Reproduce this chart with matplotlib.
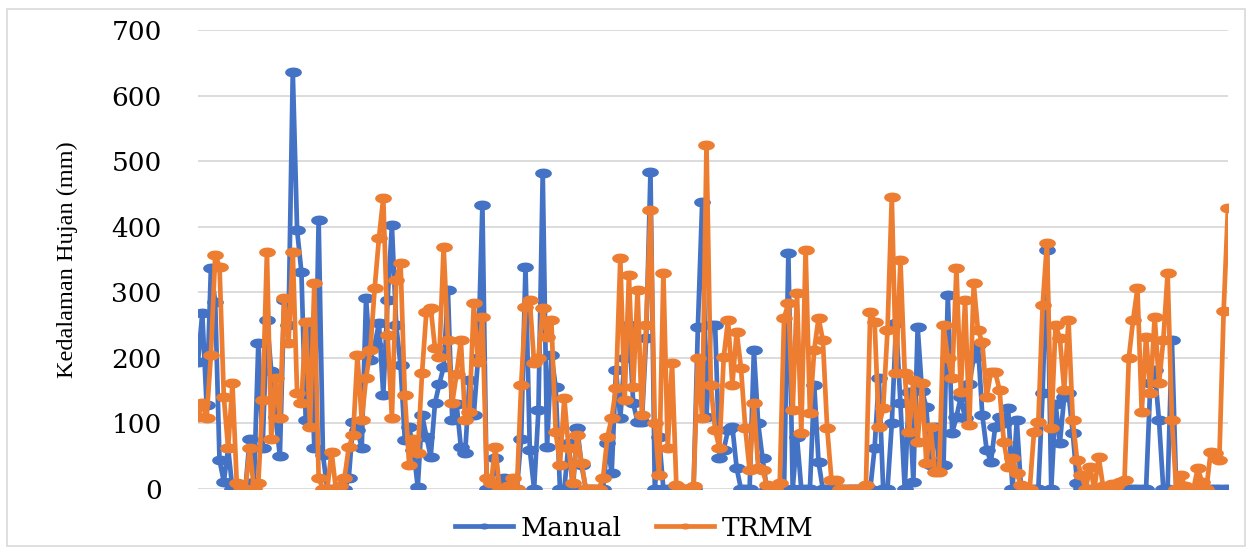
import numpy as np
import matplotlib
matplotlib.use("Agg")
import matplotlib.pyplot as plt
from matplotlib.path import Path
from matplotlib.patches import Rectangle

# values (mm), one per time step
manual = [194, 268, 128, 337, 285, 44, 11, 62, 0, 0,
          0, 0, 77, 10, 222, 62, 258, 180, 110, 50,
          288, 250, 636, 395, 331, 105, 255, 62, 410, 52,
          0, 0, 0, 0, 0, 17, 102, 90, 62, 291,
          197, 220, 253, 143, 288, 402, 250, 189, 75, 95,
          60, 3, 113, 80, 49, 131, 160, 186, 303, 105,
          130, 64, 55, 166, 113, 200, 433, 0, 0, 47,
          0, 17, 0, 0, 0, 77, 339, 60, 0, 120,
          482, 64, 204, 156, 0, 0, 70, 0, 93, 37,
          0, 0, 0, 0, 0, 70, 24, 181, 108, 200,
          250, 131, 102, 102, 230, 483, 0, 79, 0, 0,
          0, 0, 0, 0, 0, 0, 247, 437, 110, 250,
          250, 47, 60, 90, 95, 32, 0, 0, 0, 212,
          100, 47, 0, 0, 0, 0, 0, 360, 0, 79,
          0, 0, 0, 159, 41, 0, 0, 0, 0, 0,
          0, 0, 0, 0, 0, 0, 0, 62, 169, 0,
          0, 100, 253, 131, 0, 148, 11, 247, 150, 125,
          37, 95, 40, 37, 296, 85, 110, 140, 108, 160,
          200, 220, 113, 60, 41, 95, 110, 100, 123, 0,
          105, 0, 0, 0, 0, 0, 146, 365, 0, 130,
          70, 140, 146, 85, 9, 0, 0, 0, 0, 0,
          0, 0, 0, 0, 0, 0, 0, 0, 0, 0,
          0, 161, 181, 105, 0, 0, 227, 0, 0, 0,
          0, 0, 0, 0, 0, 0, 0, 0, 0, 0]

trmm = [110, 131, 108, 204, 357, 339, 140, 62, 161, 9,
        3, 0, 62, 0, 9, 135, 361, 77, 169, 108,
        292, 222, 361, 147, 131, 255, 95, 314, 17, 0,
        0, 57, 0, 5, 17, 64, 82, 204, 105, 169,
        212, 306, 383, 444, 235, 108, 319, 345, 143, 37,
        77, 55, 177, 270, 276, 215, 201, 369, 227, 131,
        175, 227, 105, 117, 283, 194, 263, 17, 9, 64,
        0, 0, 5, 17, 0, 159, 278, 288, 192, 200,
        276, 232, 258, 87, 37, 139, 62, 9, 82, 40,
        0, 0, 0, 0, 17, 79, 108, 154, 352, 135,
        326, 156, 303, 113, 250, 425, 100, 21, 329, 62,
        192, 6, 0, 0, 0, 5, 200, 108, 524, 159,
        90, 62, 201, 258, 159, 240, 185, 93, 29, 131,
        32, 29, 6, 0, 0, 9, 261, 283, 120, 299,
        85, 365, 116, 212, 261, 227, 93, 14, 14, 0,
        0, 0, 0, 0, 0, 6, 270, 255, 95, 123,
        242, 445, 177, 349, 177, 87, 166, 72, 161, 40,
        95, 26, 26, 250, 200, 169, 337, 148, 288, 98,
        314, 242, 224, 140, 178, 178, 151, 72, 34, 47,
        24, 6, 0, 0, 87, 102, 280, 375, 93, 250,
        230, 151, 258, 105, 44, 21, 0, 34, 0, 49,
        5, 0, 8, 5, 10, 14, 200, 258, 306, 117,
        232, 147, 263, 161, 227, 329, 105, 0, 21, 5,
        0, 0, 32, 10, 0, 57, 55, 44, 271, 428]

yticks = [0, 100, 200, 300, 400, 500, 600, 700]

blue = "#4472C4"
orange = "#ED7D31"

x = np.arange(len(manual))

# wide elliptical marker (the source picture is stretched sideways)
t = np.linspace(0, 2 * np.pi, 60)
ell = Path(np.column_stack([1.8 * np.cos(t), np.sin(t)]), closed=True)

fig = plt.figure(figsize=(12.53, 5.49), dpi=100)
ax = fig.add_axes([0.158, 0.1093, 0.822, 0.8361])

ax.plot(x, manual, color=blue, lw=3.4, marker=ell, ms=11, label="Manual")
ax.plot(x, trmm, color=orange, lw=3.4, marker=ell, ms=11, label="TRMM")

ax.set_xlim(0, len(manual) - 1)
ax.set_ylim(0, 700)
ax.set_yticks(yticks)
ax.set_yticklabels([str(v) for v in yticks], family="DejaVu Serif", fontsize=19)
ax.set_xticks([])
ax.tick_params(axis="y", length=0, pad=26)
ax.grid(axis="y", color="#D9D9D9", lw=1.3)
ax.set_axisbelow(True)
for s in ax.spines.values():
    s.set_visible(False)

ax.set_ylabel("Kedalaman Hujan (mm)", family=["Liberation Serif", "DejaVu Serif"],
              fontsize=17.5, labelpad=24)

leg = fig.legend(loc="center", bbox_to_anchor=(0.506, 0.038), ncol=2, frameon=False,
                 prop={"family": "DejaVu Serif", "size": 19},
                 handlelength=2.2, handletextpad=0.3, columnspacing=1.3,
                 markerscale=0.55)

fig.patches.append(Rectangle((7 / 1253, 1 - 546 / 549), 1238 / 1253, 537 / 549,
                             transform=fig.transFigure, fill=False,
                             edgecolor="#D9D9D9", lw=1.2))

fig.savefig("out.png", dpi=100)
